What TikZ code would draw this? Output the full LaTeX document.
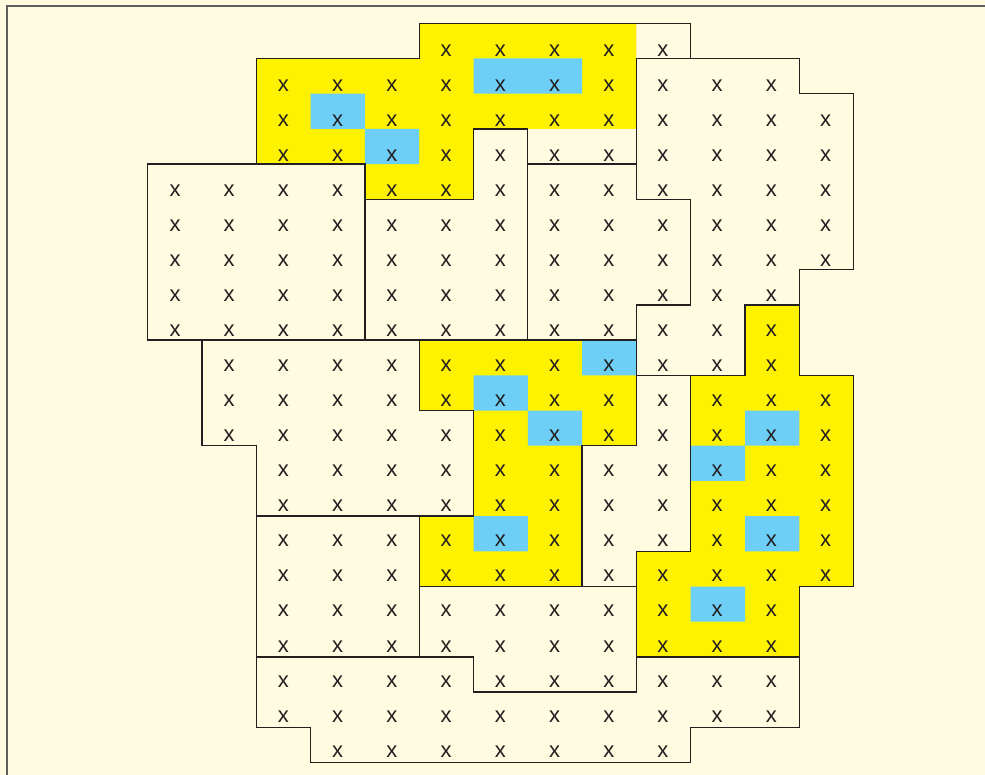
\documentclass[tikz,border=0pt]{standalone}
\usepackage{fontspec}
\setmainfont{Liberation Sans}
\definecolor{cream}{RGB}{255,251,225}
\definecolor{hiyel}{RGB}{255,242,0}
\definecolor{hiblue}{RGB}{109,207,246}
\definecolor{ink}{RGB}{35,31,32}
\definecolor{framegray}{RGB}{95,95,95}
\tikzset{
  blockline/.style={draw=ink,line width=1.3pt,line join=miter},
  yelfill/.style={fill=hiyel},
  bluefill/.style={fill=hiblue},
  cellx/.style={text=ink,inner sep=0pt,anchor=base,font=\fontsize{22}{26}\selectfont},
}
\begin{document}
\begin{tikzpicture}[x=1pt,y=-1pt]
\fill[cream] (0,0) rectangle (985,775);
\useasboundingbox (0,0) rectangle (985,775);
\draw[framegray,line width=1.8pt] (6.7,5.8) rectangle (1000,800);
\begin{scope}[x=54.3pt,y=-35.2pt,shift={(147.7pt,-23.3pt)}]
  % yellow fills
  \fill[yelfill] (5,0) rectangle (9,1) (2,1) rectangle (9,3) (2,3) rectangle (6,4) (4,4) rectangle (6,5);
  \fill[yelfill] (5,9) rectangle (9,11) (6,11) rectangle (9,12) (6,12) rectangle (8,14) (5,14) rectangle (8,16);
  \fill[yelfill] (11,8) rectangle (12,10) (10,10) rectangle (13,15) (9,15) rectangle (13,16) (9,16) rectangle (12,18);
  % blue fills
  \fill[bluefill] (6,1) rectangle (8,2) (3,2) rectangle (4,3) (4,3) rectangle (5,4);
  \fill[bluefill] (8,9) rectangle (9,10) (6,10) rectangle (7,11) (7,11) rectangle (8,12) (6,14) rectangle (7,15);
  \fill[bluefill] (11,11) rectangle (12,12) (10,12) rectangle (11,13) (11,14) rectangle (12,15) (10,16) rectangle (11,17);
  % block outlines
  \draw[blockline] (5,0) -- (10,0) -- (10,1) -- (9,1) -- (9,4) -- (7,4) -- (7,3) -- (6,3) -- (6,5) -- (4,5) -- (4,4) -- (2,4) -- (2,1) -- (5,1) -- cycle;
  \draw[blockline] (9,1) -- (12,1) -- (12,2) -- (13,2) -- (13,7) -- (12,7) -- (12,8) -- (11,8) -- (11,10) -- (9,10) -- (9,8) -- (10,8) -- (10,5) -- (9,5) -- cycle;
  \draw[blockline] (7,4) -- (9,4) -- (9,5) -- (10,5) -- (10,8) -- (9,8) -- (9,9) -- (7,9) -- cycle;
  \draw[blockline] (6,3) -- (7,3) -- (7,9) -- (4,9) -- (4,5) -- (6,5) -- cycle;
  \draw[blockline] (0,4) rectangle (4,9);
  \draw[blockline] (1,9) -- (5,9) -- (5,11) -- (6,11) -- (6,14) -- (2,14) -- (2,12) -- (1,12) -- cycle;
  \draw[blockline] (5,9) -- (9,9) -- (9,12) -- (8,12) -- (8,16) -- (5,16) -- (5,14) -- (6,14) -- (6,11) -- (5,11) -- cycle;
  \draw[blockline] (9,10) -- (10,10) -- (10,15) -- (9,15) -- (9,16) -- (8,16) -- (8,12) -- (9,12) -- cycle;
  \draw[blockline] (11,8) -- (12,8) -- (12,10) -- (13,10) -- (13,16) -- (12,16) -- (12,18) -- (9,18) -- (9,15) -- (10,15) -- (10,10) -- (11,10) -- cycle;
  \draw[blockline] (2,14) rectangle (5,18);
  \draw[blockline] (5,16) -- (9,16) -- (9,19) -- (6,19) -- (6,18) -- (5,18) -- cycle;
  \draw[blockline] (2,18) -- (6,18) -- (6,19) -- (9,19) -- (9,18) -- (12,18) -- (12,20) -- (10,20) -- (10,21) -- (3,21) -- (3,20) -- (2,20) -- cycle;
\end{scope}
% x marks
\foreach \r/\a/\b in {0/5/9,1/2/11,2/2/12,3/2/12,4/0/12,5/0/12,6/0/12,7/0/11,8/0/11,9/1/11,10/1/12,11/1/12,12/2/12,13/2/12,14/2/12,15/2/12,16/2/11,17/2/11,18/2/11,19/2/11,20/3/9}{
  \foreach \c in {\a,...,\b}{
    \node[cellx] (x-\r-\c) at ({175+54.22*\c},{56.5+35.03*\r}) {x};
  }
}
\end{tikzpicture}
\end{document}
